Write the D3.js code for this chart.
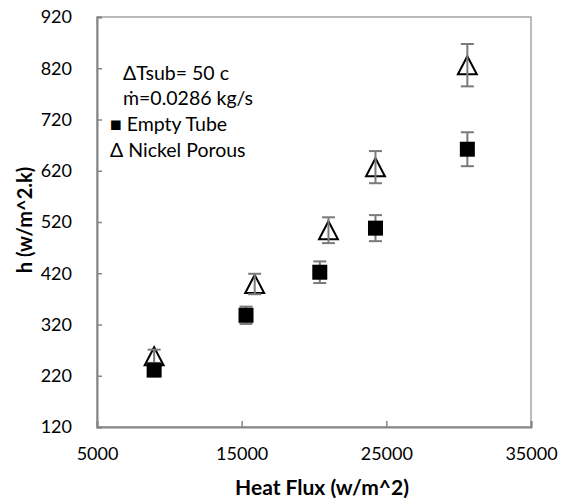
<!DOCTYPE html>
<html>
<head>
<meta charset="utf-8">
<script src="https://cdn.jsdelivr.net/npm/d3@7"></script>
<style>
  html, body { margin: 0; padding: 0; background: #fff; }
  svg { display: block; font-family: Lato, "Open Sans", sans-serif; }
</style>
</head>
<body>
<svg id="chart" width="565" height="499"></svg>
<script>
// Heat transfer coefficient vs. heat flux, ΔTsub = 50 c
const emptyFlux   = [8950, 15300, 20400, 24250, 30600];
const emptyH      = [231, 338, 422, 508, 662];
const nickelFlux  = [8950, 15900, 21000, 24250, 30600];
const nickelH     = [258, 399, 504, 627, 826];
const errFraction = 0.05;               // ±5 % error bars
const xTicks = [5000, 15000, 25000, 35000];
const yTicks = [120, 220, 320, 420, 520, 620, 720, 820, 920];
const legendLines = ["ΔTsub= 50 c", "ṁ=0.0286 kg/s", "■ Empty Tube", "Δ Nickel Porous"];

const svg = d3.select("#chart");
const box = { left: 97, right: 531, top: 17, bottom: 427 };

const x = d3.scaleLinear().domain([5000, 35000]).range([box.left, box.right]);
const y = d3.scaleLinear().domain([120, 920]).range([box.bottom, box.top]);

const axisColor = "#868686";

// plot frame
svg.append("rect")
  .attr("x", box.left).attr("y", box.top)
  .attr("width", box.right - box.left).attr("height", box.bottom - box.top)
  .attr("fill", "none").attr("stroke", "#8e8e8e").attr("stroke-width", 1.2);

// axes with inward ticks
const yAxis = d3.axisLeft(y).tickValues(yTicks).tickSize(-5).tickPadding(25).tickFormat(d3.format("d"));
const xAxis = d3.axisBottom(x).tickValues(xTicks).tickSize(-6).tickPadding(20).tickFormat(d3.format("d"));

const gy = svg.append("g").attr("transform", `translate(${box.left},0)`).call(yAxis);
const gx = svg.append("g").attr("transform", `translate(0,${box.bottom})`).call(xAxis);

[gx, gy].forEach(g => {
  g.select(".domain").attr("stroke", axisColor).attr("stroke-width", 2);
  g.selectAll(".tick line").attr("stroke", axisColor).attr("stroke-width", 1.5);
  g.selectAll(".tick text").attr("fill", "#000").style("font-size", "18px")
    .style("font-family", "Lato, 'Open Sans', sans-serif");
});
gx.selectAll(".tick text").attr("dy", "0.71em");

// axis titles
svg.append("text")
  .attr("x", 322).attr("y", 495)
  .attr("text-anchor", "middle")
  .style("font-weight", "bold").style("font-size", "21px")
  .text("Heat Flux (w/m^2)");

svg.append("text")
  .attr("transform", `translate(32,${(box.top + box.bottom) / 2 - 2}) rotate(-90)`)
  .attr("text-anchor", "middle")
  .style("font-weight", "bold").style("font-size", "20px")
  .text("h (w/m^2.k)");

const errColor = "#7a7a7a";
function errorBars(flux, h) {
  const g = svg.append("g");
  flux.forEach((f, i) => {
    const lo = y(h[i] * (1 - errFraction)), hi = y(h[i] * (1 + errFraction)), cx = x(f);
    g.append("line").attr("x1", cx).attr("x2", cx).attr("y1", lo).attr("y2", hi)
      .attr("stroke", errColor).attr("stroke-width", 2);
    [lo, hi].forEach(v => g.append("line")
      .attr("x1", cx - 6.5).attr("x2", cx + 6.5).attr("y1", v).attr("y2", v)
      .attr("stroke", errColor).attr("stroke-width", 2));
  });
}

// triangle marker centred on its bounding box
const boxTriangle = {
  draw(ctx, size) {
    const h = Math.sqrt(size) / 2;
    ctx.moveTo(0, -h);
    ctx.lineTo(h * 1.05, h);
    ctx.lineTo(-h * 1.05, h);
    ctx.closePath();
  }
};

// Nickel porous: open triangles
const tri = d3.symbol().type(boxTriangle).size(324);
svg.append("g").selectAll("path").data(nickelFlux).join("path")
  .attr("d", tri)
  .attr("transform", (d, i) => `translate(${x(d)},${y(nickelH[i])})`)
  .attr("fill", "#fff").attr("stroke", "#000").attr("stroke-width", 2)
  .attr("stroke-linejoin", "miter");
errorBars(nickelFlux, nickelH);

// Empty tube: filled squares
errorBars(emptyFlux, emptyH);
svg.append("g").selectAll("rect").data(emptyFlux).join("rect")
  .attr("x", d => x(d) - 7.5).attr("y", (d, i) => y(emptyH[i]) - 7.5)
  .attr("width", 15).attr("height", 15).attr("fill", "#000");

// annotation / legend text
svg.append("g").selectAll("text").data(legendLines).join("text")
  .attr("x", (d, i) => i < 2 ? 123 : 110)
  .attr("y", (d, i) => [73, 98, 124, 150][i])
  .attr("dy", "0.35em")
  .style("font-size", "19.5px")
  .text(d => d);
</script>
</body>
</html>
